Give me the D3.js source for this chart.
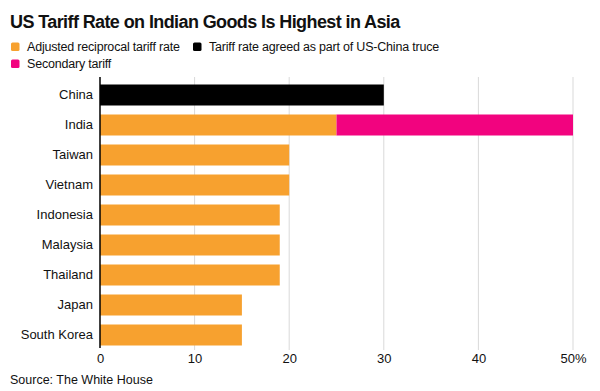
<!DOCTYPE html>
<html>
<head>
<meta charset="utf-8">
<script src="https://cdn.jsdelivr.net/npm/d3@7"></script>
<style>
	body { margin: 0; background: #fff; font-family: "Liberation Sans", Arial, sans-serif; }
	svg text { fill: #111; }
</style>
</head>
<body>
<div id="chart"></div>
<script>

var countries = ["China", "India", "Taiwan", "Vietnam", "Indonesia", "Malaysia", "Thailand", "Japan", "South Korea"]
var reciprocal = [0, 25, 20, 20, 19, 19, 19, 15, 15]
var truce = [30, 0, 0, 0, 0, 0, 0, 0, 0]
var secondary = [0, 25, 0, 0, 0, 0, 0, 0, 0]
var xTicks = [0, 10, 20, 30, 40, 50]

var seriesNames = ["Adjusted reciprocal tariff rate", "Tariff rate agreed as part of US-China truce", "Secondary tariff"]
var colors = ["#f7a12f", "#000000", "#f2037f"]

var width = 600
var height = 391
var margin = {top: 80, right: 27, bottom: 41, left: 100}

var svg = d3.select("#chart").append("svg")
	.attr("width", width)
	.attr("height", height)

svg.append("text")
	.attr("x", 10)
	.attr("y", 28)
	.style("font-size", "18px")
	.style("font-weight", "bold")
	.style("letter-spacing", "-0.6px")
	.text("US Tariff Rate on Indian Goods Is Highest in Asia")

// legend
var legendPos = [{x: 11, y: 51}, {x: 193, y: 51}, {x: 11, y: 68}]
seriesNames.forEach(function(name, i) {
	var g = svg.append("g").attr("transform", "translate(" + legendPos[i].x + "," + legendPos[i].y + ")")
	g.append("rect")
		.attr("x", 0)
		.attr("y", -8.5)
		.attr("width", 8.5)
		.attr("height", 8.5)
		.attr("rx", 1.5)
		.style("fill", colors[i])
	g.append("text")
		.attr("x", 16)
		.attr("y", 0)
		.style("font-size", "12.5px")
		.style("letter-spacing", "-0.2px")
		.text(name)
})

var x = d3.scaleLinear().domain([0, 50]).range([margin.left, width - margin.right])
var y = d3.scaleBand().domain(countries).range([margin.top, height - margin.bottom]).paddingInner(0.3).paddingOuter(0.15)

// gridlines
svg.append("g")
	.selectAll("line")
	.data(xTicks.slice(1))
	.enter().append("line")
	.attr("x1", function(d) { return x(d) })
	.attr("x2", function(d) { return x(d) })
	.attr("y1", margin.top - 3)
	.attr("y2", height - margin.bottom)
	.style("stroke", "#d9d9d9")
	.style("stroke-width", 1)

var rows = countries.map(function(c, i) {
	return {country: c, reciprocal: reciprocal[i], truce: truce[i], secondary: secondary[i]}
})

var stack = d3.stack().keys(["reciprocal", "truce", "secondary"])(rows)

svg.append("g")
	.selectAll("g")
	.data(stack)
	.enter().append("g")
	.style("fill", function(d, i) { return colors[i] })
	.selectAll("rect")
	.data(function(d) { return d })
	.enter().append("rect")
	.attr("x", function(d) { return x(d[0]) })
	.attr("y", function(d) { return y(d.data.country) })
	.attr("width", function(d) { return x(d[1]) - x(d[0]) })
	.attr("height", y.bandwidth())

// y axis
var yAxis = svg.append("g")
	.attr("transform", "translate(" + margin.left + ",0)")
	.call(d3.axisLeft(y).tickSize(0).tickPadding(7))
yAxis.select(".domain").remove()
yAxis.selectAll("text").style("font-size", "13px").style("font-family", "Liberation Sans, Arial, sans-serif").attr("fill", "#111")

svg.append("line")
	.attr("x1", x(0))
	.attr("x2", x(0))
	.attr("y1", margin.top - 3)
	.attr("y2", height - margin.bottom - 2)
	.style("stroke", "#000")
	.style("stroke-width", 1.5)

// x axis
var xAxis = svg.append("g")
	.attr("transform", "translate(0," + (height - margin.bottom) + ")")
	.call(d3.axisBottom(x).tickValues(xTicks).tickSize(0).tickPadding(4)
		.tickFormat(function(d) { return d === 50 ? d + "%" : d }))
xAxis.select(".domain").remove()
xAxis.selectAll("text").style("font-size", "13px").style("font-family", "Liberation Sans, Arial, sans-serif").attr("fill", "#111")

svg.append("text")
	.attr("x", 10)
	.attr("y", 384)
	.style("font-size", "12.5px")
	.text("Source: The White House")

</script>
</body>
</html>
